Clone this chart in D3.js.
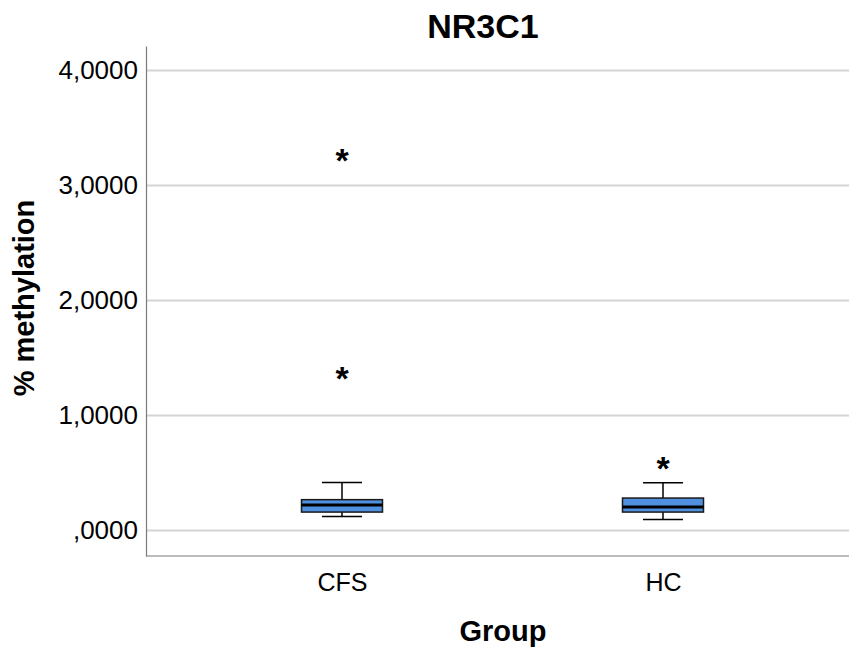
<!DOCTYPE html>
<html>
<head>
<meta charset="utf-8">
<script src="https://cdn.jsdelivr.net/npm/d3@7"></script>
<style>
    body { margin: 0; background: #fff; }
    svg text { font-family: "Liberation Sans", Arial, sans-serif; fill: #000; }
    .grid line { stroke: #d4d4d4; stroke-width: 2; }
    .axis--y text { font-size: 26px; }
    .axis--x text { font-size: 25px; }
</style>
</head>
<body>
<div id="chart"></div>
<script>
// data
var categories = ["CFS", "HC"];
var whiskerLow = [0.122, 0.095];
var q1 = [0.160, 0.160];
var median = [0.222, 0.205];
var q3 = [0.268, 0.282];
var whiskerHigh = [0.418, 0.415];
var outliers = [[3.25, 1.35], [0.57]];
var yTicks = [0, 1, 2, 3, 4];

var width = 849, height = 647;
var margin = { top: 46, right: 0, bottom: 91, left: 146 };

var svg = d3.select('#chart').append('svg')
    .attr('width', width)
    .attr('height', height);

var y = d3.scaleLinear()
    .domain([-0.222, 4.213])
    .range([height - margin.bottom, margin.top]);

var x = d3.scalePoint()
    .domain(categories)
    .range([342, 663]);

var fmt = function (d) {
    return d3.format('.4f')(d).replace('.', ',').replace(/^0,/, ',');
};

// gridlines
svg.append('g')
    .attr('class', 'grid')
    .selectAll('line')
    .data(yTicks)
    .enter()
    .append('line')
    .attr('x1', margin.left)
    .attr('x2', width)
    .attr('y1', function (d) { return y(d); })
    .attr('y2', function (d) { return y(d); });

// y axis
var yAxis = svg.append('g')
    .attr('class', 'axis--y')
    .attr('transform', 'translate(' + margin.left + ',0)')
    .call(d3.axisLeft(y).tickValues(yTicks).tickFormat(fmt).tickSize(0).tickPadding(8));
yAxis.select('.domain').attr('stroke', '#7a7a7a').attr('stroke-width', 1.2);

// x axis
var xAxis = svg.append('g')
    .attr('class', 'axis--x')
    .attr('transform', 'translate(0,' + (height - margin.bottom) + ')')
    .call(d3.axisBottom(x).tickSize(0).tickPadding(17));
xAxis.select('.domain').remove();
svg.append('line')
    .attr('x1', margin.left)
    .attr('x2', width)
    .attr('y1', height - margin.bottom)
    .attr('y2', height - margin.bottom)
    .attr('stroke', '#7a7a7a')
    .attr('stroke-width', 1.2);

// boxes
var boxW = 81, capW = 40;
var boxes = svg.append('g').selectAll('g')
    .data(categories)
    .enter()
    .append('g');

boxes.append('line')
    .attr('x1', function (d) { return x(d); })
    .attr('x2', function (d) { return x(d); })
    .attr('y1', function (d, i) { return y(whiskerHigh[i]); })
    .attr('y2', function (d, i) { return y(whiskerLow[i]); })
    .attr('stroke', '#000').attr('stroke-width', 1.5);

boxes.selectAll('.cap')
    .data(function (d, i) { return [{ c: d, v: whiskerLow[i] }, { c: d, v: whiskerHigh[i] }]; })
    .enter()
    .append('line')
    .attr('class', 'cap')
    .attr('x1', function (d) { return x(d.c) - capW / 2; })
    .attr('x2', function (d) { return x(d.c) + capW / 2; })
    .attr('y1', function (d) { return y(d.v); })
    .attr('y2', function (d) { return y(d.v); })
    .attr('stroke', '#000').attr('stroke-width', 1.5);

boxes.append('rect')
    .attr('x', function (d) { return x(d) - boxW / 2; })
    .attr('width', boxW)
    .attr('y', function (d, i) { return y(q3[i]); })
    .attr('height', function (d, i) { return y(q1[i]) - y(q3[i]); })
    .attr('fill', '#4f91e0')
    .attr('stroke', '#1a1a1a').attr('stroke-width', 1.5);

boxes.append('line')
    .attr('x1', function (d) { return x(d) - boxW / 2; })
    .attr('x2', function (d) { return x(d) + boxW / 2; })
    .attr('y1', function (d, i) { return y(median[i]); })
    .attr('y2', function (d, i) { return y(median[i]); })
    .attr('stroke', '#000').attr('stroke-width', 3);

// extreme values
boxes.selectAll('.star')
    .data(function (d, i) { return outliers[i].map(function (v) { return { c: d, v: v }; }); })
    .enter()
    .append('text')
    .attr('class', 'star')
    .attr('x', function (d) { return x(d.c); })
    .attr('y', function (d) { return y(d.v) + 15; })
    .attr('text-anchor', 'middle')
    .style('font-size', '34px')
    .style('font-weight', 'bold')
    .text('*');

// labels
svg.append('text')
    .attr('x', 483)
    .attr('y', 38)
    .attr('text-anchor', 'middle')
    .style('font-size', '34px')
    .style('font-weight', 'bold')
    .text('NR3C1');

svg.append('text')
    .attr('x', 503)
    .attr('y', 641)
    .attr('text-anchor', 'middle')
    .style('font-size', '29px')
    .style('font-weight', 'bold')
    .text('Group');

svg.append('text')
    .attr('transform', 'translate(34,' + 298 + ') rotate(-90)')
    .attr('text-anchor', 'middle')
    .style('font-size', '29px')
    .style('font-weight', 'bold')
    .text('% methylation');
</script>
</body>
</html>
